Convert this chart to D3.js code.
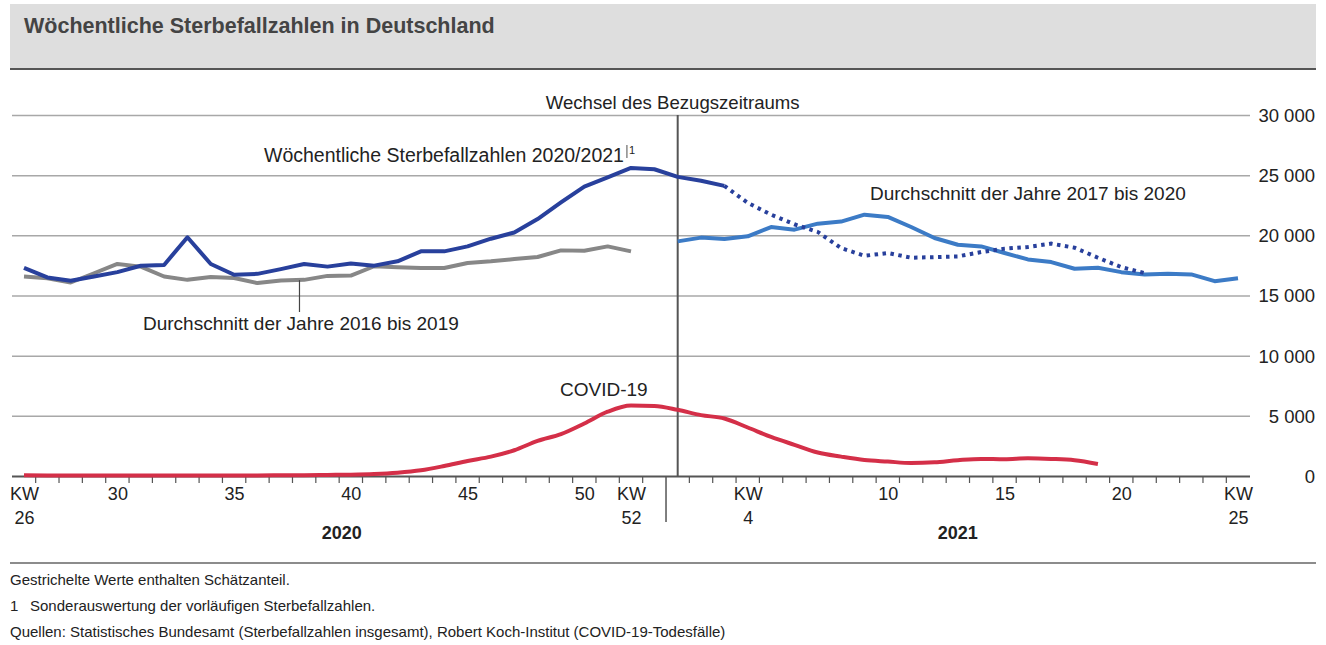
<!DOCTYPE html>
<html>
<head>
<meta charset="utf-8">
<script src="https://cdn.jsdelivr.net/npm/d3@7"></script>
<style>
  body { margin: 0; background: #fff; }
  svg { display: block; font-family: "Liberation Sans", Arial, sans-serif; }
</style>
</head>
<body>
<svg></svg>

<script>

  // calendar weeks shown on the x axis (2020 has 53 weeks)
  var weeks2020 = [26, 27, 28, 29, 30, 31, 32, 33, 34, 35, 36, 37, 38, 39, 40,
                   41, 42, 43, 44, 45, 46, 47, 48, 49, 50, 51, 52, 53];
  var weeks2021 = [1, 2, 3, 4, 5, 6, 7, 8, 9, 10, 11, 12, 13, 14, 15, 16, 17,
                   18, 19, 20, 21, 22, 23, 24, 25];

  // weekly deaths 2020/2021 (KW26 2020 .. KW53 2020)
  var deaths2020 = [17300, 16500, 16220, 16580, 16940, 17470, 17540, 19840, 17620,
                    16720, 16800, 17190, 17620, 17400, 17660, 17480, 17840, 18670,
                    18670, 19080, 19720, 20240, 21350, 22730, 24050, 24820, 25600, 25490];
  // weekly deaths 2021 (KW1 .. KW21), values after KW3 contain estimates
  var deaths2021 = [24860, 24530, 24110, 22700, 21720, 20920, 20280, 18940, 18300,
                    18530, 18140, 18190, 18250, 18610, 18890, 19030, 19310, 18970,
                    18140, 17360, 16860];
  var estimatedFromWeek = 3;

  // average 2016 to 2019 (KW26 .. KW52)
  var avg2016to2019 = [16580, 16440, 16080, 16850, 17620, 17400, 16580, 16300, 16530,
                       16450, 16030, 16250, 16300, 16630, 16660, 17430, 17340, 17290,
                       17290, 17700, 17840, 18030, 18200, 18750, 18720, 19080, 18670];

  // average 2017 to 2020 (KW1 .. KW25 2021)
  var avg2017to2020 = [19500, 19810, 19690, 19920, 20690, 20470, 20970, 21140, 21720,
                       21530, 20690, 19780, 19220, 19080, 18530, 18000, 17780, 17220,
                       17300, 16940, 16750, 16800, 16750, 16190, 16440];

  // COVID-19 deaths (KW26 2020 .. KW53 2020, KW1 .. KW19 2021)
  var covid2020 = [70, 50, 40, 40, 40, 40, 40, 45, 50, 50, 50, 60, 70, 90, 110, 160,
                   270, 470, 830, 1250, 1610, 2140, 2920, 3475, 4360, 5340, 5850, 5820];
  var covid2021 = [5500, 5060, 4780, 4030, 3250, 2590, 1950, 1610, 1330, 1200, 1080,
                   1140, 1310, 1420, 1390, 1470, 1420, 1310, 1000];

  // x axis labels
  var xTickWeeks = ["2020-26", "2020-30", "2020-35", "2020-40", "2020-45", "2020-50", "2020-52",
                    "2021-4", "2021-10", "2021-15", "2021-20", "2021-25"];
  var xTickText = ["KW|26", "30", "35", "40", "45", "50", "KW|52",
                   "KW|4", "10", "15", "20", "KW|25"];
  var yTicks = [0, 5000, 10000, 15000, 20000, 25000, 30000];

  var weeks = weeks2020.map(function(w) { return "2020-" + w; })
    .concat(weeks2021.map(function(w) { return "2021-" + w; }));

  var svg = d3.select("svg").attr("width", 1326).attr("height", 645);

  var x = d3.scalePoint().domain(weeks).range([24, 1238]);
  var y = d3.scaleLinear().domain([0, 30000]).range([476, 115]);
  var step = x.step();
  var left = 12, right = 1250;

  // header
  svg.append("rect").attr("x", 10).attr("y", 4).attr("width", 1306).attr("height", 64)
    .attr("fill", "#dedede");
  svg.append("line").attr("x1", 10).attr("x2", 1316).attr("y1", 69).attr("y2", 69)
    .attr("stroke", "#555").attr("stroke-width", 2);
  svg.append("text").attr("x", 24).attr("y", 33)
    .attr("font-size", 21.5).attr("font-weight", "bold").attr("fill", "#444")
    .text("Wöchentliche Sterbefallzahlen in Deutschland");

  // y axis with gridlines
  var yAxis = svg.append("g")
    .attr("transform", "translate(" + right + ",0)")
    .call(d3.axisRight(y).tickValues(yTicks).tickSize(-(right - left)).tickPadding(0)
      .tickFormat(function(d) { return d3.format(",")(d).replace(",", " "); }));
  yAxis.select(".domain").remove();
  yAxis.selectAll(".tick line").attr("stroke", function(d) { return d === 0 ? "#555" : "#a8a8a8"; })
    .attr("stroke-width", function(d) { return d === 0 ? 2 : 1.5; });
  yAxis.selectAll(".tick text").attr("x", 65).attr("text-anchor", "end").attr("dy", "0.35em")
    .attr("font-size", 18.5).attr("fill", "#222").attr("font-family", null);

  // week boundary ticks on the x axis
  var boundaries = weeks.slice(1);
  svg.append("g").selectAll("line").data(boundaries).enter().append("line")
    .attr("x1", function(d) { return x(d) - step / 2; })
    .attr("x2", function(d) { return x(d) - step / 2; })
    .attr("y1", 476)
    .attr("y2", function(d) { return d === "2021-1" ? 522 : 483; })
    .attr("stroke", "#555").attr("stroke-width", function(d) { return d === "2021-1" ? 1.5 : 1.2; });

  // x axis labels
  var xAxis = svg.append("g")
    .attr("transform", "translate(0,476)")
    .call(d3.axisBottom(x).tickValues(xTickWeeks).tickSize(0).tickPadding(0).tickFormat(""));
  xAxis.select(".domain").remove();
  xAxis.selectAll(".tick").each(function(d, i) {
    var parts = xTickText[i].split("|");
    var t = d3.select(this).select("text").attr("y", 0).attr("dy", null)
      .attr("font-size", 18).attr("fill", "#222").attr("font-family", null);
    parts.forEach(function(p, j) {
      t.append("tspan").attr("x", 0).attr("y", 24 + j * 24).text(p);
    });
  });

  // year labels
  var years = [["2020", "2020-40", -9], ["2021", "2021-13", 0]];
  svg.selectAll(".year").data(years).enter().append("text")
    .attr("class", "year")
    .attr("x", function(d) { return x(d[1]) + d[2]; })
    .attr("y", 539)
    .attr("text-anchor", "middle").attr("font-size", 18).attr("font-weight", "bold").attr("fill", "#222")
    .text(function(d) { return d[0]; });

  // change of reference period
  var changeX = x("2021-1");
  svg.append("line").attr("x1", changeX).attr("x2", changeX).attr("y1", 115).attr("y2", 476)
    .attr("stroke", "#555").attr("stroke-width", 2);
  svg.append("text").attr("x", changeX - 5).attr("y", 109).attr("text-anchor", "middle")
    .attr("font-size", 18.6).attr("fill", "#222").text("Wechsel des Bezugszeitraums");

  // series
  var pts = function(keys, values) {
    return values.map(function(v, i) { return { k: keys[i], v: v }; });
  };
  var keys2020 = weeks.slice(0, weeks2020.length);
  var keys2021 = weeks.slice(weeks2020.length);

  var line = d3.line().x(function(d) { return x(d.k); }).y(function(d) { return y(d.v); });
  var smooth = d3.line().x(function(d) { return x(d.k); }).y(function(d) { return y(d.v); })
    .curve(d3.curveMonotoneX);

  var deathsAll = pts(keys2020, deaths2020).concat(pts(keys2021, deaths2021));
  var cut = weeks2020.length + estimatedFromWeek;
  var deathsSolid = deathsAll.slice(0, cut);
  var deathsEst = deathsAll.slice(cut - 1);

  svg.append("path").datum(pts(keys2020, avg2016to2019)).attr("d", line)
    .attr("fill", "none").attr("stroke", "#878787").attr("stroke-width", 4).attr("stroke-linejoin", "round");
  svg.append("path").datum(pts(keys2021, avg2017to2020)).attr("d", line)
    .attr("fill", "none").attr("stroke", "#3c7bc6").attr("stroke-width", 4).attr("stroke-linejoin", "round");
  svg.append("path").datum(deathsSolid).attr("d", line)
    .attr("fill", "none").attr("stroke", "#28409c").attr("stroke-width", 4).attr("stroke-linejoin", "round");
  svg.append("path").datum(deathsEst).attr("d", line)
    .attr("fill", "none").attr("stroke", "#28409c").attr("stroke-width", 4)
    .attr("stroke-dasharray", "3.5,4.5");
  svg.append("path").datum(pts(keys2020, covid2020).concat(pts(keys2021, covid2021))).attr("d", smooth)
    .attr("fill", "none").attr("stroke", "#d42f48").attr("stroke-width", 4).attr("stroke-linejoin", "round");

  // labels
  var lbl = svg.append("g").attr("font-size", 19).attr("fill", "#222");
  var t1 = lbl.append("text").attr("x", 264).attr("y", 162).attr("font-size", 19.5)
    .text("Wöchentliche Sterbefallzahlen 2020/2021");
  var t1w = t1.node().getComputedTextLength();
  lbl.append("line").attr("x1", 264 + t1w + 3).attr("x2", 264 + t1w + 3).attr("y1", 145).attr("y2", 158)
    .attr("stroke", "#222").attr("stroke-width", 0.8);
  lbl.append("text").attr("x", 264 + t1w + 5).attr("y", 154).attr("font-size", 11).text("1");

  lbl.append("text").attr("x", 870).attr("y", 200).text("Durchschnitt der Jahre 2017 bis 2020");
  lbl.append("text").attr("x", 143).attr("y", 330).text("Durchschnitt der Jahre 2016 bis 2019");
  lbl.append("text").attr("x", 560).attr("y", 396).text("COVID-19");

  // leader from the 2016-2019 average to its label
  var leaderX = (x("2020-37") + x("2020-38")) / 2 + 7;
  svg.append("line").attr("x1", leaderX).attr("x2", leaderX)
    .attr("y1", y((avg2016to2019[11] + avg2016to2019[12]) / 2)).attr("y2", 312)
    .attr("stroke", "#444").attr("stroke-width", 1.2);

  // footer
  svg.append("line").attr("x1", 10).attr("x2", 1316).attr("y1", 563).attr("y2", 563)
    .attr("stroke", "#666").attr("stroke-width", 1.5);
  var foot = svg.append("g").attr("font-size", 15).attr("fill", "#222");
  foot.append("text").attr("x", 10).attr("y", 585).text("Gestrichelte Werte enthalten Schätzanteil.");
  foot.append("text").attr("x", 10).attr("y", 611).text("1\u2002 Sonderauswertung der vorläufigen Sterbefallzahlen.");
  foot.append("text").attr("x", 10).attr("y", 637)
    .text("Quellen: Statistisches Bundesamt (Sterbefallzahlen insgesamt), Robert Koch-Institut (COVID-19-Todesfälle)");

</script>
</body>
</html>
